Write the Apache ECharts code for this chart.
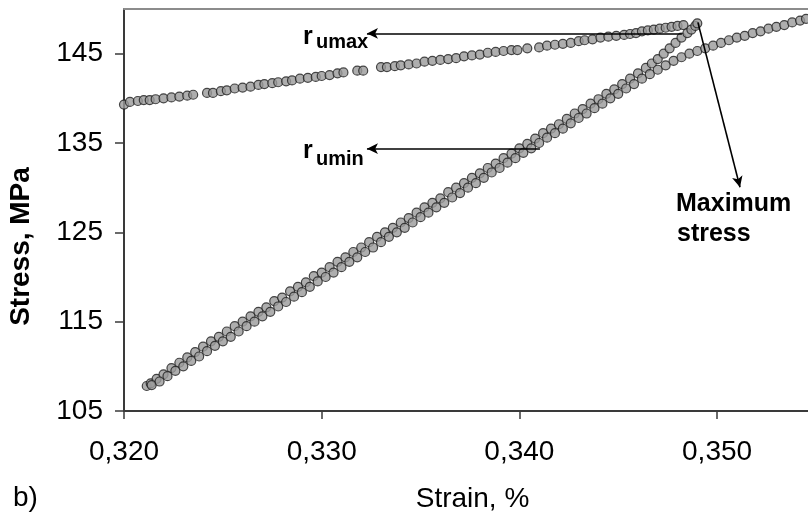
<!DOCTYPE html>
<html>
<head>
<meta charset="utf-8">
<script src="https://cdn.jsdelivr.net/npm/echarts@6/dist/echarts.min.js"></script>
<style>
html,body{margin:0;padding:0;background:#fff;}
#chart{width:808px;height:516px;}
</style>
</head>
<body>
<div id="chart"></div>
<script>
// ---- data (strain %, stress MPa) ----
const xTicks = [0.32, 0.33, 0.34, 0.35];
const yTicks = [105, 115, 125, 135, 145];

const upperBranch = [
[0.3200,139.3],[0.3203,139.6],[0.3207,139.7],[0.3210,139.8],[0.3213,139.8],[0.3216,139.9],[0.3220,140.0],[0.3224,140.1],
[0.3228,140.2],[0.3232,140.3],[0.3235,140.4],[0.3242,140.6],[0.3245,140.6],[0.3249,140.8],[0.3252,140.9],[0.3256,141.1],
[0.3260,141.2],[0.3264,141.3],[0.3268,141.5],[0.3271,141.6],[0.3275,141.7],[0.3278,141.8],[0.3282,141.9],[0.3285,142.0],
[0.3289,142.2],[0.3293,142.3],[0.3297,142.4],[0.3300,142.5],[0.3304,142.6],[0.3308,142.8],[0.3311,142.9],[0.3318,143.1],
[0.3321,143.1],[0.3330,143.5],[0.3333,143.5],[0.3337,143.6],[0.3340,143.7],[0.3344,143.8],[0.3348,143.9],[0.3352,144.1],
[0.3356,144.2],[0.3360,144.3],[0.3364,144.4],[0.3368,144.5],[0.3372,144.7],[0.3376,144.8],[0.3380,144.9],[0.3384,145.1],
[0.3388,145.2],[0.3392,145.3],[0.3396,145.4],[0.3399,145.4],[0.3404,145.6],[0.3410,145.7],[0.3414,145.9],[0.3418,146.0],
[0.3422,146.1],[0.3426,146.2],[0.3430,146.4],[0.3433,146.5],[0.3437,146.6],[0.3441,146.8],[0.3445,146.9],[0.3449,147.0],
[0.3453,147.1],[0.3456,147.2],[0.3459,147.3],[0.3462,147.5],[0.3465,147.6],[0.3468,147.7],[0.3471,147.8],[0.3474,147.9],
[0.3477,148.0],[0.3480,148.1],[0.3483,148.2]
];

const loadingA = [
[0.32115,107.8],[0.32135,108.1],[0.32165,108.6],[0.3220,109.1],[0.3224,109.8],[0.3228,110.4],[0.3232,111.0],[0.3236,111.6],
[0.3240,112.2],[0.3244,112.8],[0.3248,113.3],[0.3252,113.9],[0.3256,114.5],[0.3260,115.0],[0.3264,115.6],[0.3268,116.1],
[0.3272,116.6],[0.3276,117.3],[0.3280,117.7],[0.3284,118.4],[0.3288,118.9],[0.3292,119.4],[0.3296,120.1],[0.3300,120.5],
[0.3304,121.1],[0.3308,121.7],[0.3312,122.2],[0.3316,122.8],[0.3320,123.3],[0.3324,123.9],[0.3328,124.5],[0.3332,125.0],
[0.3336,125.5],[0.3340,126.1],[0.3344,126.6],[0.3348,127.2],[0.3352,127.8],[0.3356,128.3],[0.3360,128.8],[0.3364,129.5],
[0.3368,130.0],[0.3372,130.5],[0.3376,131.1],[0.3380,131.6],[0.3384,132.2],[0.3388,132.7],[0.3392,133.3],[0.3396,133.8],
[0.3400,134.4],[0.3404,134.9],[0.3408,135.5],[0.3412,136.1],[0.3416,136.6],[0.3420,137.1],[0.3424,137.7],[0.3428,138.3],
[0.3432,138.8],[0.3436,139.4],[0.3440,139.9],[0.3444,140.5],[0.3448,141.0],[0.3452,141.6],[0.3456,142.2],[0.3460,142.8],
[0.3464,143.4],[0.3467,143.9],[0.3470,144.4],[0.3473,145.0],[0.3476,145.6],[0.3479,146.2],[0.3482,146.8],[0.3485,147.3],
[0.3487,147.7],[0.3489,148.1],[0.3490,148.4]
];

const loadingB = [
[0.3214,107.9],[0.3218,108.3],[0.3222,108.9],[0.3226,109.5],[0.3230,110.0],[0.3234,110.6],[0.3238,111.1],[0.3242,111.7],
[0.3246,112.3],[0.3250,112.8],[0.3254,113.3],[0.3258,113.9],[0.3262,114.5],[0.3266,115.0],[0.3270,115.6],[0.3274,116.1],
[0.3278,116.7],[0.3282,117.2],[0.3286,117.8],[0.3290,118.3],[0.3294,118.9],[0.3298,119.5],[0.3302,120.0],[0.3306,120.5],
[0.3310,121.1],[0.3314,121.7],[0.3318,122.2],[0.3322,122.8],[0.3326,123.3],[0.3330,123.9],[0.3334,124.5],[0.3338,125.0],
[0.3342,125.5],[0.3346,126.1],[0.3350,126.7],[0.3354,127.2],[0.3358,127.8],[0.3362,128.3],[0.3366,128.9],[0.3370,129.4],
[0.3374,130.0],[0.3378,130.5],[0.3382,131.1],[0.3386,131.7],[0.3390,132.2],[0.3394,132.8],[0.3398,133.3],[0.3402,133.9],
[0.3406,134.4],[0.3410,135.0],[0.3414,135.6],[0.3418,136.1],[0.3422,136.6],[0.3426,137.2],[0.3430,137.8],[0.3434,138.3],
[0.3438,138.9],[0.3442,139.4],[0.3446,140.0],[0.3450,140.5],[0.3454,141.1],[0.3458,141.6],[0.3462,142.2],[0.3466,142.7],
[0.3470,143.2],[0.3474,143.7],[0.3478,144.2],[0.3482,144.6],[0.3486,145.0],[0.3490,145.3],[0.3494,145.6],[0.3498,145.9],
[0.3502,146.2],[0.3506,146.5],[0.3510,146.8],[0.3514,147.0],[0.3518,147.3],[0.3522,147.5],[0.3526,147.8],[0.3530,148.0],
[0.3534,148.2],[0.3538,148.5],[0.3542,148.7],[0.3545,148.9]
];

// annotation arrows [from, to] in data coordinates
const arrowUmax = [[0.34822,147.27],[0.33229,147.27]];
const arrowUmin = [[0.34104,134.37],[0.33229,134.37]];
const arrowMax  = [[0.34903,148.50],[0.35116,130.04]];

const FONT = '"Liberation Sans", Arial, Helvetica, sans-serif';
const chart = echarts.init(document.getElementById('chart'), null, {renderer:'canvas'});

const markerStyle = {color:'#9a9a9a', borderColor:'#1e1e1e', borderWidth:1.2};
function scatter(name, data){
  return {name, type:'scatter', data, symbol:'circle', symbolSize:9, itemStyle:markerStyle, silent:true, z:3};
}
function arrowPair(a){ return [{coord:a[0]},{coord:a[1]}]; }

const option = {
  animation:false,
  backgroundColor:'#fff',
  grid:{left:124, right:0, top:9, bottom:105, containLabel:false},
  xAxis:[{
    type:'value', min:0.32, max:0.3546, interval:0.01,
    axisLine:{lineStyle:{color:'#3a3a3a', width:2}},
    axisTick:{show:true, length:8, lineStyle:{color:'#3a3a3a', width:1.5}, customValues:xTicks},
    axisLabel:{customValues:xTicks, fontSize:28, fontFamily:FONT, color:'#000', margin:27,
      formatter:v=>v.toFixed(3).replace('.',',')},
    splitLine:{show:false}
  },{
    type:'value', position:'top', min:0.32, max:0.3546,
    axisLine:{show:true, lineStyle:{color:'#8c8c8c', width:2}},
    axisTick:{show:false}, axisLabel:{show:false}, splitLine:{show:false}
  }],
  yAxis:{
    type:'value', min:105, max:150, interval:10,
    axisLine:{lineStyle:{color:'#3a3a3a', width:2}},
    axisTick:{show:true, length:9, lineStyle:{color:'#3a3a3a', width:1.5}, customValues:yTicks},
    axisLabel:{customValues:yTicks, fontSize:28, fontFamily:FONT, color:'#000', margin:21},
    splitLine:{show:false}
  },
  series:[
    scatter('upper', upperBranch),
    scatter('loadingA', loadingA),
    scatter('loadingB', loadingB),
    {
      type:'scatter', data:[], silent:true, z:5,
      markLine:{
        silent:true, symbol:['none','arrow'], symbolSize:[8,11],
        label:{show:false},
        lineStyle:{color:'#000', width:1.6, type:'solid'},
        emphasis:{disabled:true},
        data:[arrowPair(arrowUmax), arrowPair(arrowUmin), arrowPair(arrowMax)]
      }
    }
  ],
  graphic:[
    {type:'text', x:303, y:37.5, style:{text:'r', font:'bold 25px '+FONT, fill:'#000', verticalAlign:'middle'}},
    {type:'text', x:316, y:42.5, style:{text:'umax', font:'bold 20px '+FONT, fill:'#000', verticalAlign:'middle'}},
    {type:'text', x:303, y:151.5, style:{text:'r', font:'bold 25px '+FONT, fill:'#000', verticalAlign:'middle'}},
    {type:'text', x:316, y:159, style:{text:'umin', font:'bold 20px '+FONT, fill:'#000', verticalAlign:'middle'}},
    {type:'text', x:676, y:204.5, style:{text:'Maximum', font:'bold 25px '+FONT, fill:'#000', verticalAlign:'middle'}},
    {type:'text', x:677, y:234.5, style:{text:'stress', font:'bold 25px '+FONT, fill:'#000', verticalAlign:'middle'}},
    {type:'text', x:13, y:498, style:{text:'b)', font:'28px '+FONT, fill:'#000', verticalAlign:'middle'}},
    {type:'text', x:472.5, y:499, style:{text:'Strain, %', font:'28px '+FONT, fill:'#000', align:'center', verticalAlign:'middle'}},
    {type:'text', x:21, y:246.5, rotation:Math.PI/2, style:{text:'Stress, MPa', font:'bold 28px '+FONT, fill:'#000', align:'center', verticalAlign:'middle'}}
  ]
};
chart.setOption(option);
</script>
</body>
</html>
